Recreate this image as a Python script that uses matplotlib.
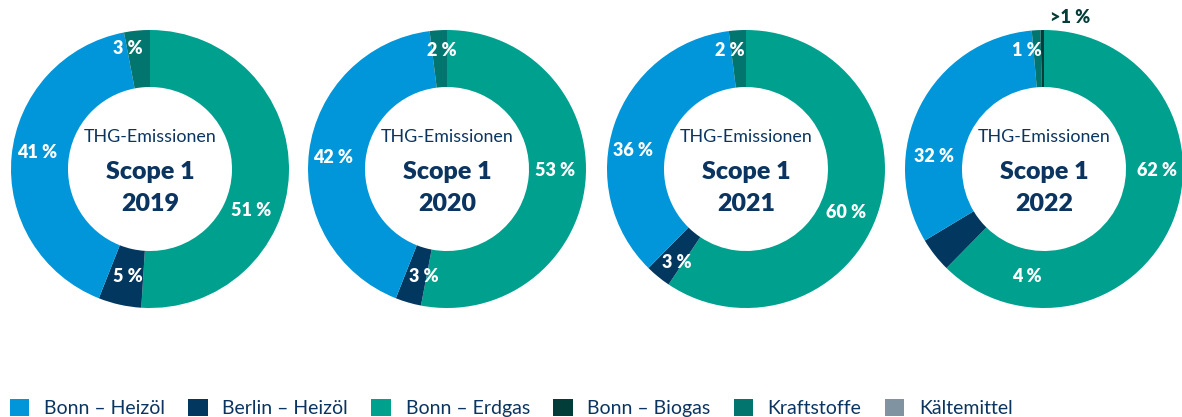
import matplotlib
matplotlib.use("Agg")
import matplotlib.pyplot as plt
from matplotlib.patches import Patch

plt.rcParams['font.family'] = ['Lato', 'DejaVu Sans']

# Categories in clockwise order starting at 12 o'clock
categories = ["Bonn – Erdgas", "Berlin – Heizöl", "Bonn – Heizöl", "Kraftstoffe", "Bonn – Biogas", "Kältemittel"]
years = ["2019", "2020", "2021", "2022"]

share_2019 = [51, 5, 41, 3, 0, 0]
share_2020 = [53, 3, 42, 2, 0, 0]
share_2021 = [60, 3, 36, 2, 0, 0]
share_2022 = [62, 4, 32, 1, 0.4, 0]
shares = [share_2019, share_2020, share_2021, share_2022]

labels_2019 = ["51 %", "5 %", "41 %", "3 %", "", ""]
labels_2020 = ["53 %", "3 %", "42 %", "2 %", "", ""]
labels_2021 = ["60 %", "3 %", "36 %", "2 %", "", ""]
labels_2022 = ["62 %", "4 %", "32 %", "1 %", ">1 %", ""]
labels = [labels_2019, labels_2020, labels_2021, labels_2022]

legend_order = ["Bonn – Heizöl", "Berlin – Heizöl", "Bonn – Erdgas", "Bonn – Biogas", "Kraftstoffe", "Kältemittel"]

colors = {
    "Bonn – Heizöl": "#0096d9",
    "Berlin – Heizöl": "#02375f",
    "Bonn – Erdgas": "#00a08e",
    "Bonn – Biogas": "#033d3a",
    "Kraftstoffe": "#02756e",
    "Kältemittel": "#7f94a0",
}
navy = "#0b3560"

# Label anchor points inside each donut (unit = outer radius)
label_pos = [
    [(0.73, -0.30), (-0.16, -0.77), (-0.81, 0.12), (-0.16, 0.87), None, None],
    [(0.78, -0.01), (-0.17, -0.77), (-0.82, 0.08), (-0.04, 0.85), None, None],
    [(0.72, -0.31), (-0.50, -0.67), (-0.81, 0.13), (-0.12, 0.85), None, None],
    [(0.81, -0.01), (-0.12, -0.77), (-0.79, 0.09), (-0.12, 0.85), (0.19, 1.09), None],
]

W, H = 1182, 417
fig = plt.figure(figsize=(W / 100, H / 100), dpi=100)

centers_x = [150, 447, 746, 1044]
center_y = 169
R = 139

for i, year in enumerate(years):
    cx = centers_x[i]
    ax = fig.add_axes([(cx - R) / W, (H - center_y - R) / H, 2 * R / W, 2 * R / H])
    vals = [v for v in shares[i] if v > 0]
    cols = [colors[c] for c, v in zip(categories, shares[i]) if v > 0]
    ax.pie(vals, colors=cols, startangle=90, counterclock=False, radius=1.0,
           wedgeprops=dict(width=0.41, edgecolor="none"))
    ax.set_xlim(-1, 1)
    ax.set_ylim(-1, 1)
    ax.set_aspect("equal")
    ax.axis("off")

    for j, txt in enumerate(labels[i]):
        if not txt:
            continue
        x, y = label_pos[i][j]
        outside = (x * x + y * y) > 1.0
        ax.text(x, y, txt, ha="center", va="center", fontsize=13, fontweight="heavy",
                color=colors["Bonn – Biogas"] if outside else "white", clip_on=False)

    ax.text(0, 0.23, "THG-Emissionen", ha="center", va="center", fontsize=12.9, color=navy)
    ax.text(0, -0.02, "Scope 1", ha="center", va="center", fontsize=18, fontweight="heavy", color=navy)
    ax.text(0, -0.25, year, ha="center", va="center", fontsize=18, fontweight="heavy", color=navy)

handles = [Patch(facecolor=colors[c], edgecolor="none", label=c) for c in legend_order]
leg = fig.legend(handles=handles, loc="center left", bbox_to_anchor=(10 / W, 9 / H),
                 ncol=6, frameon=False, fontsize=14, handlelength=1.0, handleheight=1.0,
                 handletextpad=0.75, columnspacing=1.2, borderaxespad=0.0, borderpad=0.0)
for t in leg.get_texts():
    t.set_color(navy)

fig.savefig("out.png", dpi=100)
